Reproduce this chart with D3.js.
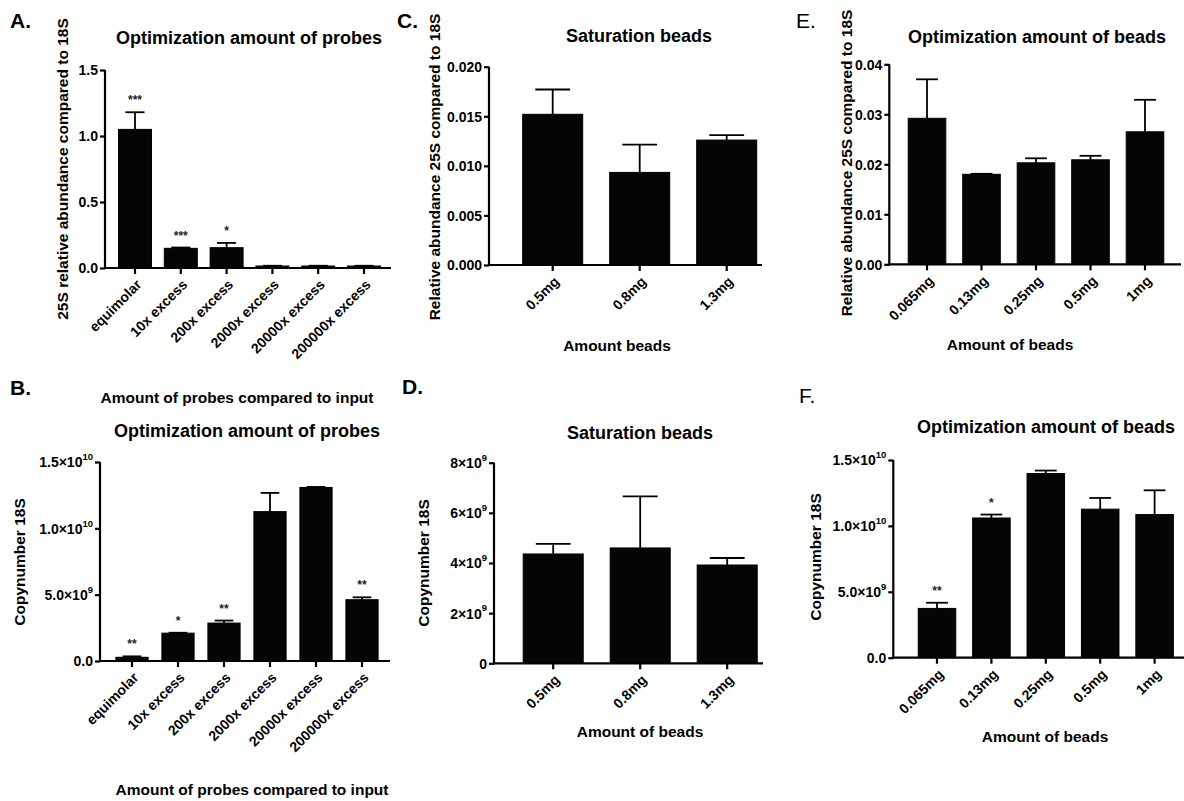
<!DOCTYPE html>
<html><head><meta charset="utf-8">
<script src="https://cdn.jsdelivr.net/npm/d3@7"></script>
<style>body{margin:0;background:#fff} svg text{font-family:"Liberation Sans",Arial,Helvetica,sans-serif;}</style>
</head><body><svg id="c" width="1184" height="801"></svg>
<script>
// ---------------- data ----------------
const probeCats = ["equimolar","10x excess","200x excess","2000x excess","20000x excess","200000x excess"];
const satCats = ["0.5mg","0.8mg","1.3mg"];
const beadCats = ["0.065mg","0.13mg","0.25mg","0.5mg","1mg"];

const aValues = [1.05, 0.149, 0.154, 0.015, 0.015, 0.015];
const aErrors = [0.13, 0.006, 0.036, 0.002, 0.002, 0.002];
const aStars  = ["***","***","*","","",""];
const aTicks  = [0, 0.5, 1.0, 1.5];

const bValues = [0.28e9, 2.1e9, 2.86e9, 11.26e9, 13.08e9, 4.62e9];
const bErrors = [0.07e9, 0.03e9, 0.19e9, 1.41e9, 0.04e9, 0.18e9];
const bStars  = ["**","*","**","","","**"];
const bTicks  = [0, 5e9, 1e10, 1.5e10];

const cValues = [0.0152, 0.00934, 0.0126];
const cErrors = [0.0025, 0.0028, 0.0005];
const cTicks  = [0, 0.005, 0.010, 0.015, 0.020];

const dValues = [4.36e9, 4.6e9, 3.92e9];
const dErrors = [0.4e9, 2.06e9, 0.28e9];
const dTicks  = [0, 2e9, 4e9, 6e9, 8e9];

const eValues = [0.0292, 0.0180, 0.0203, 0.0209, 0.0265];
const eErrors = [0.0078, 0.0001, 0.0009, 0.0008, 0.0064];
const eTicks  = [0, 0.01, 0.02, 0.03, 0.04];

const fValues = [3.74e9, 10.6e9, 13.97e9, 11.27e9, 10.86e9];
const fErrors = [0.43e9, 0.26e9, 0.23e9, 0.85e9, 1.84e9];
const fStars  = ["**","*","","",""];
const fTicks  = [0, 5e9, 1e10, 1.5e10];

// ---------------- formats ----------------
const fmtFixed = n => d => [d3.format("." + n + "f")(d), ""];
function fmtSci(mantDigits) {
  return d => {
    if (d === 0) return [mantDigits ? "0.0" : "0", ""];
    const e = Math.floor(Math.log10(d));
    const m = d / Math.pow(10, e);
    return [(mantDigits ? m.toFixed(mantDigits) : String(Math.round(m))) + "\u00d710", String(e)];
  };
}

// ---------------- layout ----------------
const panels = [
  {letter:"A.", lx:10, ly:28, lweight:"bold",
   title:"Optimization amount of probes", tx:249, ty:44,
   ylab:"25S relative abundance compared to 18S", ylx:68, yly:169,
   xlab:"Amount of probes compared to input", xlx:237, xly:403,
   axisX:105, zeroY:268, topY:70, band:[112.1,386.9], pad:0.28, axisEnd:391,
   cats:probeCats, values:aValues, errors:aErrors, stars:aStars, ticks:aTicks, fmt:fmtFixed(1)},
  {letter:"B.", lx:10, ly:395, lweight:"bold",
   title:"Optimization amount of probes", tx:247, ty:437,
   ylab:"Copynumber 18S", ylx:25, yly:562,
   xlab:"Amount of probes compared to input", xlx:252, xly:795,
   axisX:100, zeroY:661, topY:462, band:[109,385], pad:0.3, axisEnd:390,
   cats:probeCats, values:bValues, errors:bErrors, stars:bStars, ticks:bTicks, fmt:fmtSci(1)},
  {letter:"C.", lx:397, ly:28, lweight:"bold",
   title:"Saturation beads", tx:639, ty:42,
   ylab:"Relative abundance 25S compared to 18S", ylx:440, yly:167,
   xlab:"Amount beads", xlx:617, xly:351,
   axisX:489, zeroY:265, topY:66.7, band:[509.2,770.2], pad:0.31, axisEnd:762,
   cats:satCats, values:cValues, errors:cErrors, stars:null, ticks:cTicks, fmt:fmtFixed(3)},
  {letter:"D.", lx:402, ly:394, lweight:"bold",
   title:"Saturation beads", tx:640, ty:439,
   ylab:"Copynumber 18S", ylx:429, yly:563,
   xlab:"Amount of beads", xlx:640, xly:737,
   axisX:494, zeroY:663.3, topY:462.7, band:[509.7,770.7], pad:0.31, axisEnd:763,
   cats:satCats, values:dValues, errors:dErrors, stars:null, ticks:dTicks, fmt:fmtSci(0)},
  {letter:"E.", lx:796, ly:28, lweight:"normal",
   title:"Optimization amount of beads", tx:1037, ty:43,
   ylab:"Relative abundance 25S compared to 18S", ylx:852, yly:163,
   xlab:"Amount of beads", xlx:1010, xly:350,
   axisX:889.3, zeroY:264.3, topY:64.3, band:[899.75,1172.25], pad:0.31, axisEnd:1181,
   cats:beadCats, values:eValues, errors:eErrors, stars:null, ticks:eTicks, fmt:fmtFixed(2)},
  {letter:"F.", lx:799, ly:403, lweight:"normal",
   title:"Optimization amount of beads", tx:1046, ty:433,
   ylab:"Copynumber 18S", ylx:821, yly:557,
   xlab:"Amount of beads", xlx:1045, xly:742,
   axisX:893.3, zeroY:657.7, topY:460, band:[909.8,1181.8], pad:0.31, axisEnd:1184,
   cats:beadCats, values:fValues, errors:fErrors, stars:fStars, ticks:fTicks, fmt:fmtSci(1)}
];

const svg = d3.select("#c");
const INK = "#000";

panels.forEach(p => {
  const g = svg.append("g");
  const yMax = p.ticks[p.ticks.length - 1];
  const y = d3.scaleLinear().domain([0, yMax]).range([p.zeroY, p.topY]);
  const x = d3.scaleBand().domain(p.cats).range(p.band).paddingInner(p.pad).paddingOuter(p.pad / 2);
  const bw = x.bandwidth();

  // bars
  g.selectAll("rect.bar").data(p.cats).join("rect")
    .attr("x", d => x(d)).attr("width", bw)
    .attr("y", (d, i) => y(p.values[i]))
    .attr("height", (d, i) => p.zeroY - y(p.values[i]))
    .attr("fill", "#050505").attr("stroke", INK).attr("stroke-width", 1);

  // error bars (upper)
  const eg = g.append("g").attr("stroke", INK).attr("stroke-width", 1.8).attr("fill", "none");
  p.cats.forEach((c, i) => {
    const cx = x(c) + bw / 2;
    const top = y(p.values[i] + p.errors[i]);
    eg.append("line").attr("x1", cx).attr("x2", cx).attr("y1", y(p.values[i])).attr("y2", top);
    eg.append("line").attr("x1", cx - bw * 0.29).attr("x2", cx + bw * 0.29).attr("y1", top).attr("y2", top);
    if (p.stars && p.stars[i]) {
      g.append("text").attr("x", cx).attr("y", top - 8).attr("text-anchor", "middle")
        .attr("font-size", 12).attr("font-weight", "bold").attr("fill", "#222").text(p.stars[i]);
    }
  });

  // y axis
  const ya = g.append("g").attr("transform", `translate(${p.axisX},0)`)
    .call(d3.axisLeft(y).tickValues(p.ticks).tickSizeOuter(0).tickSize(5).tickPadding(3).tickFormat(""));
  ya.select(".domain").attr("stroke-width", 2.2).attr("d", `M0,${p.zeroY + 1}V${p.topY}`);
  ya.selectAll(".tick line").attr("stroke-width", 2.2);
  ya.selectAll(".tick text").each(function(d) {
    const [m, e] = p.fmt(d);
    const t = d3.select(this).attr("font-size", 14).attr("font-weight", "bold").attr("fill", INK)
      .attr("font-family", null).attr("x", -7).attr("dy", "0.35em");
    t.text(null);
    t.append("tspan").text(m);
    if (e) t.append("tspan").attr("font-size", 9.5).attr("dy", "-0.75em").text(e);
  });

  // x axis
  const xa = g.append("g").attr("transform", `translate(0,${p.zeroY})`)
    .call(d3.axisBottom(x).tickSizeOuter(0).tickSize(6).tickPadding(0));
  xa.select(".domain").attr("stroke-width", 2.2).attr("d", `M${p.axisX - 1},0H${p.axisEnd}`);
  xa.selectAll(".tick line").attr("stroke-width", 2.2);
  xa.selectAll(".tick text").attr("font-size", 14).attr("font-weight", "bold").attr("fill", INK)
    .attr("font-family", null)
    .attr("text-anchor", "end").attr("x", 0).attr("y", 0).attr("dy", "0.35em")
    .attr("transform", "translate(4,14) rotate(-45)");

  // texts
  svg.append("text").attr("x", p.lx).attr("y", p.ly).attr("font-size", 21)
    .attr("font-weight", p.lweight).text(p.letter);
  svg.append("text").attr("x", p.tx).attr("y", p.ty).attr("text-anchor", "middle")
    .attr("font-size", 18).attr("font-weight", "bold").text(p.title);
  svg.append("text").attr("transform", `translate(${p.ylx},${p.yly}) rotate(-90)`)
    .attr("text-anchor", "middle").attr("font-size", 15.5).attr("font-weight", "bold").text(p.ylab);
  svg.append("text").attr("x", p.xlx).attr("y", p.xly).attr("text-anchor", "middle")
    .attr("font-size", 15.5).attr("font-weight", "bold").text(p.xlab);
});
</script>
</body></html>
